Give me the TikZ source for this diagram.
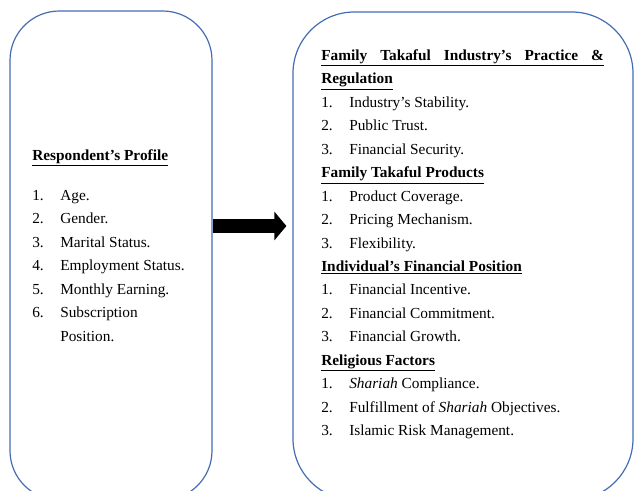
\documentclass[tikz,border=0pt]{standalone}
\usepackage{fontspec}
\setmainfont{Liberation Serif}
\usetikzlibrary{fit,positioning,arrows.meta}
\definecolor{boxblue}{RGB}{68,108,180}

\newcommand{\heading}[1]{\underline{\textbf{#1}}}
\newcommand{\listline}[2]{\makebox[21pt][l]{#1}#2}

\begin{document}
\begin{tikzpicture} [
	x=0.75pt, y=-0.75pt,
	panel/.style = {
		draw=boxblue,
		line width=0.9pt,
		inner sep=0pt
	},
	listtext/.style = {
		anchor=north west,
		inner sep=0pt,
		align=left,
		font=\fontsize{11.5}{17.6}\selectfont
	},
	bigarrow/.style = {
		line width=11pt,
		-{Triangle[length=9pt,width=21pt]},
		shorten >=4.5pt
	}
]
\useasboundingbox (0,0) rectangle (634,490);
\clip (0,0) rectangle (634,490);

% the two panels run past the lower edge
\node (profile) [panel, rounded corners=37pt, fit={(10,11) (212,500)}] {};
\node (factors) [panel, rounded corners=46pt, fit={(293,12) (633,500)}] {};
\coordinate (arrowrow) at (0,226);

\node (profiletext) [listtext] at (32,143.6) {
\strut\heading{Respondent's Profile}\\[12.4pt]
\listline{1.}{Age.}\\
\listline{2.}{Gender.}\\
\listline{3.}{Marital Status.}\\
\listline{4.}{Employment Status.}\\
\listline{5.}{Monthly Earning.}\\
\listline{6.}{Subscription}\\
\hspace*{21pt}Position.
};

\node (factortext) [listtext] at (321,43.6) {
\strut\underline{\makebox[212pt][s]{\bfseries Family Takaful Industry's Practice \&}}\\
\heading{Regulation}\\
\listline{1.}{Industry's Stability.}\\
\listline{2.}{Public Trust.}\\
\listline{3.}{Financial Security.}\\
\heading{Family Takaful Products}\\
\listline{1.}{Product Coverage.}\\
\listline{2.}{Pricing Mechanism.}\\
\listline{3.}{Flexibility.}\\
\heading{Individual's Financial Position}\\
\listline{1.}{Financial Incentive.}\\
\listline{2.}{Financial Commitment.}\\
\listline{3.}{Financial Growth.}\\
\heading{Religious Factors}\\
\listline{1.}{\textit{Shariah} Compliance.}\\
\listline{2.}{Fulfillment of \textit{Shariah} Objectives.}\\
\listline{3.}{Islamic Risk Management.}
};

\draw [bigarrow] (profile.east |- arrowrow) -- (factors.west |- arrowrow);

\end{tikzpicture}
\end{document}
